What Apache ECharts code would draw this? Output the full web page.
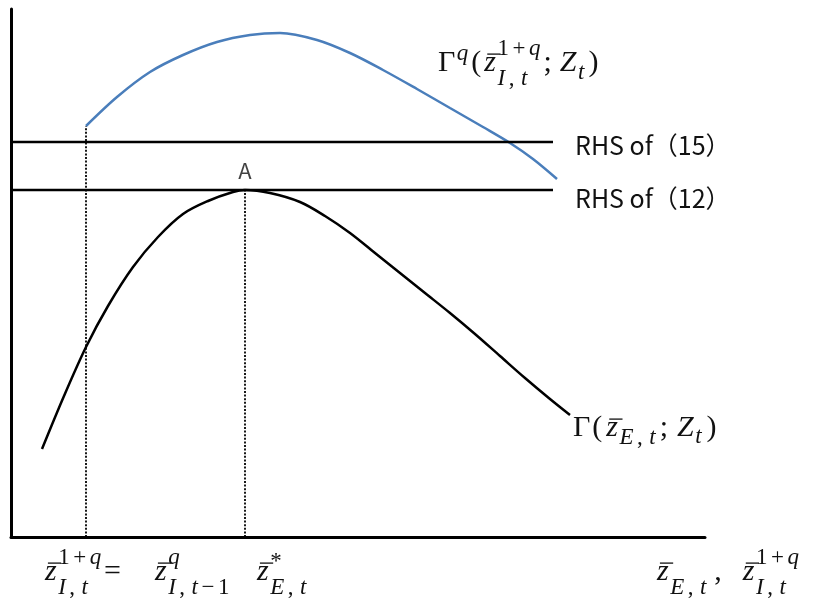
<!DOCTYPE html>
<html>
<head>
<meta charset="utf-8">
<script src="https://cdn.jsdelivr.net/npm/echarts@6/dist/echarts.min.js"></script>
<style>
  html, body { margin: 0; padding: 0; background: #fff; }
  #chart { width: 817px; height: 600px; }
</style>
</head>
<body>
<div id="chart"></div>
<script>
// curve Γ(z_E; Z) -- black
const gammaCurve = [
  [3.1, 8.8], [5.3, 14.1], [7.5, 19.0], [9.7, 23.1], [12.2, 27.0], [14.7, 30.0],
  [17.2, 32.3], [19.7, 33.6], [22.2, 34.5], [23.4, 34.7], [25.9, 34.4], [28.9, 33.5],
  [31.4, 32.1], [33.9, 30.4], [36.4, 28.4], [38.9, 26.4], [41.4, 24.4], [43.9, 22.4],
  [46.4, 20.3], [48.9, 18.1], [51.4, 15.9], [53.9, 13.8], [55.9, 12.2]
];
// curve Γ^q(z_I; Z) -- blue
const gammaQCurve = [
  [7.5, 41.1], [10.6, 44.0], [13.9, 46.5], [17.2, 48.2], [20.6, 49.5], [23.9, 50.2],
  [26.9, 50.4], [30.6, 49.7], [33.9, 48.4], [37.2, 46.7], [40.6, 44.8], [43.9, 42.9],
  [47.2, 41.0], [49.9, 39.4], [52.2, 37.8], [54.6, 35.8]
];
// horizontal levels
const rhsNames = ['RHS of（15）', 'RHS of（12）'];
const rhsLevels = [39.5, 34.7];
const rhsEnd = 54.2;
// dotted drop lines
const zIx = 7.5, zIy = 41.1;
const pointA = [23.4, 34.7];

const xMax = 69.4, yMax = 52.8;

// --- small math typesetter for the formula labels ---
const MAIN = 30, SCRIPT = 23, SGAP = 3.5;
const mctx = document.createElement('canvas').getContext('2d');
function fontOf(ch, size) {
  return (/[A-Za-z]/.test(ch) ? 'italic ' : '') + size + 'px "Liberation Serif"';
}
function run(str, x, base, size, gap, out) {
  Array.from(str).forEach(ch => {
    const bar = ch === 'ẑ';
    const c = bar ? 'z' : ch;
    const font = fontOf(c, size);
    out.push({
      type: 'text', x: x, y: base - 0.34 * size, silent: true,
      style: { text: c, font: font, fill: '#111', textAlign: 'left', textVerticalAlign: 'middle' }
    });
    mctx.font = font;
    const w = mctx.measureText(c).width;
    if (bar) {
      const by = base - 0.63 * size;
      out.push({
        type: 'line', silent: true,
        shape: { x1: x + 0.25 * w, y1: by, x2: x + w + 0.15 * size, y2: by },
        style: { stroke: '#111', lineWidth: 1.3 }
      });
    }
    x += w + (c === ',' ? gap + 3 : gap);
  });
  return x - gap;
}
function mathLabel(groups, x0, base, out) {
  let x = x0;
  groups.forEach(g => {
    if (g.x != null) x = g.x; else x += g.pad || 0;
    let xe = run(g.t, x, base, MAIN, 0, out);
    if (g.sup || g.sub) {
      const both = g.sup && g.sub;
      const sx = xe + 1.5;
      let e1 = sx, e2 = sx;
      if (g.sup) e1 = run(g.sup, sx, base + (g.supDy != null ? g.supDy : (both ? -16 : -11)), SCRIPT, SGAP, out);
      if (g.sub) e2 = run(g.sub, sx, base + (g.subDy != null ? g.subDy : (both ? 14 : 8)), SCRIPT, SGAP, out);
      xe = Math.max(e1, e2);
    }
    x = xe;
  });
}

// 'ẑ' stands for z with an overbar
const graphics = [];
mathLabel([
  { t: 'Γ', sup: 'q' },
  { t: '(', pad: 3 },
  { t: 'ẑ', sup: '1+q', sub: 'I,t', pad: 3 },
  { t: ';', pad: 3 },
  { t: 'Z', sub: 't', pad: 8 },
  { t: ')', pad: 4 }
], 438, 73, graphics);
mathLabel([
  { t: 'Γ' },
  { t: '(', pad: 2 },
  { t: 'ẑ', sub: 'E,t', pad: 4 },
  { t: ';', pad: 4 },
  { t: 'Z', sub: 't', subDy: 7, pad: 9 },
  { t: ')', pad: 5 }
], 573, 438, graphics);
mathLabel([
  { t: 'ẑ', sup: '1+q', sub: 'I,t' },
  { t: '=', x: 104 },
  { t: 'ẑ', sup: 'q', sub: 'I,t−1', x: 155 },
  { t: 'ẑ', sup: '*', sub: 'E,t', supDy: -12, x: 257 }
], 45, 582, graphics);
mathLabel([
  { t: 'ẑ', sub: 'E,t', subDy: 14 },
  { t: ',', pad: 8 },
  { t: 'ẑ', sup: '1+q', sub: 'I,t', pad: 18 }
], 657, 582, graphics);

const chart = echarts.init(document.getElementById('chart'));

const rhsSeries = rhsLevels.map((lv, i) => ({
  type: 'line', name: rhsNames[i], symbol: 'none', silent: true,
  data: [[0, lv], [rhsEnd, lv]],
  lineStyle: { color: '#000', width: 2.6 },
  endLabel: {
    show: true, formatter: rhsNames[i], distance: 22, offset: [0, i === 0 ? 3 : 8],
    fontFamily: '"Noto Sans CJK SC", "Noto Sans", sans-serif', fontSize: 25, color: '#111'
  }
}));

chart.setOption({
  animation: false,
  backgroundColor: '#fff',
  grid: { left: 11, top: 9, width: 694, height: 528 },
  xAxis: {
    type: 'value', min: 0, max: xMax,
    axisLine: { show: true, onZero: false, lineStyle: { color: '#000', width: 3 } },
    axisTick: { show: false }, axisLabel: { show: false }, splitLine: { show: false }
  },
  yAxis: {
    type: 'value', min: 0, max: yMax,
    axisLine: { show: true, onZero: false, lineStyle: { color: '#000', width: 3 } },
    axisTick: { show: false }, axisLabel: { show: false }, splitLine: { show: false }
  },
  series: [
    {
      type: 'line', name: 'gammaQ', data: gammaQCurve, smooth: 0.33, symbol: 'none',
      lineStyle: { color: '#4A7EBB', width: 2.5 }
    },
    {
      type: 'line', name: 'gamma', data: gammaCurve, smooth: 0.33, symbol: 'none',
      lineStyle: { color: '#000', width: 2.5 }
    },
    ...rhsSeries,
    {
      type: 'line', symbol: 'none', data: [[zIx, 0], [zIx, zIy]],
      lineStyle: { color: '#000', width: 1.8, type: [2, 1.6] }
    },
    {
      type: 'line', symbol: 'none', data: [[pointA[0], 0], pointA],
      lineStyle: { color: '#000', width: 1.8, type: [2, 1.6] }
    },
    {
      type: 'scatter', data: [pointA], symbolSize: 0,
      label: {
        show: true, formatter: 'A', position: 'top', distance: 8,
        fontFamily: '"Noto Sans CJK SC", "Noto Sans", sans-serif', fontSize: 22, color: '#111'
      }
    }
  ],
  graphic: graphics
});
</script>
</body>
</html>
